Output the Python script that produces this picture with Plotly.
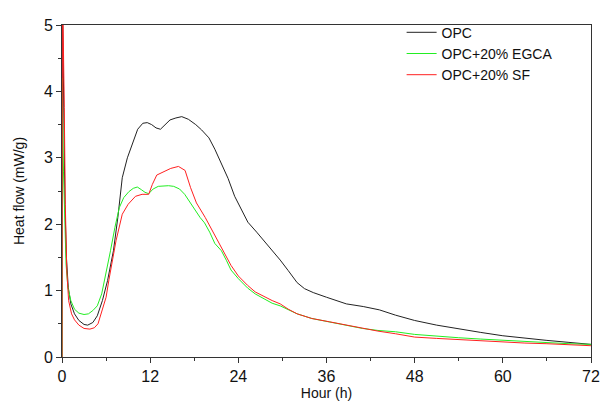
import plotly.graph_objects as go

opc_t = [0, 0.05, 0.15, 0.25, 0.4, 0.6, 0.85, 1.2, 1.7, 2.3, 3.0, 3.5, 4.2, 4.8, 5.5, 6.2, 7.0, 7.6, 8.2, 8.9, 9.6, 10.3, 11.0, 11.6, 12.2, 12.8, 13.4, 14.0, 14.7, 15.5, 16.3, 17.2, 18.2, 19.0, 20.0, 20.8, 21.8, 22.6, 23.5, 24.5, 25.3, 26.5, 27.5, 28.6, 29.7, 30.8, 32.0, 33.0, 34.2, 36.0, 38.7, 41.0, 43.2, 45.4, 48, 51, 54, 57, 60, 63, 66, 69, 72]
opc_y = [0, 5.5, 4.6, 3.7, 2.3, 1.5, 1.05, 0.8, 0.65, 0.55, 0.49, 0.48, 0.52, 0.62, 0.85, 1.15, 1.6, 2.1, 2.7, 3.0, 3.2, 3.43, 3.52, 3.53, 3.5, 3.45, 3.43, 3.5, 3.57, 3.6, 3.62, 3.58, 3.5, 3.42, 3.3, 3.13, 2.9, 2.69, 2.42, 2.2, 2.03, 1.88, 1.75, 1.6, 1.46, 1.3, 1.12, 1.03, 0.97, 0.9, 0.8, 0.76, 0.71, 0.63, 0.55, 0.48, 0.42, 0.37, 0.32, 0.28, 0.25, 0.22, 0.19]

egca_t = [0, 0.03, 0.1, 0.2, 0.35, 0.55, 0.8, 1.2, 1.7, 2.3, 3.0, 3.6, 4.2, 4.8, 5.4, 6.0, 6.6, 7.2, 7.8, 8.4, 9.1, 9.7, 10.25, 10.8, 11.3, 11.8, 12.4, 13.1, 13.8, 14.5, 15.2, 16.0, 16.7, 17.4, 18.1, 18.8, 19.4, 20.1, 20.8, 21.7, 22.4, 23.0, 24.0, 25.25, 26.3, 27.5, 28.6, 29.7, 30.8, 32.0, 34.0, 36.4, 38.7, 40.9, 43, 45.4, 48, 51, 54, 57, 60, 63, 66, 69, 72]
egca_y = [0, 4.2, 3.6, 2.8, 2.0, 1.4, 1.05, 0.85, 0.72, 0.66, 0.64, 0.65, 0.7, 0.77, 0.95, 1.25, 1.6, 1.95, 2.25, 2.4, 2.49, 2.54, 2.56, 2.52, 2.48, 2.46, 2.53, 2.57, 2.58, 2.58, 2.57, 2.53, 2.45, 2.33, 2.2, 2.1, 2.02, 1.88, 1.71, 1.6, 1.45, 1.31, 1.18, 1.04, 0.95, 0.87, 0.81, 0.77, 0.71, 0.65, 0.58, 0.53, 0.48, 0.43, 0.4, 0.38, 0.34, 0.31, 0.29, 0.27, 0.25, 0.23, 0.21, 0.2, 0.19]

sf_t = [0, 0.06, 0.15, 0.31, 0.45, 0.65, 0.9, 1.3, 1.7, 2.3, 3.0, 3.8, 4.4, 4.9, 5.5, 6.0, 6.4, 6.9, 7.35, 8.2, 9.0, 10.0, 10.9, 11.8, 12.3, 12.9, 13.8, 14.8, 15.85, 16.75, 17.5, 18.3, 19.5, 20.8, 22.0, 23.0, 24.0, 25.25, 26.3, 27.5, 28.6, 29.7, 30.8, 32.0, 34, 36.4, 38.7, 40.9, 43, 45.4, 48, 51, 54, 57, 60, 63, 66, 69, 72]
sf_y = [0, 6.0, 5.0, 3.76, 2.3, 1.3, 0.85, 0.65, 0.56, 0.48, 0.43, 0.42, 0.44, 0.5, 0.7, 0.9, 1.17, 1.45, 1.75, 2.15, 2.3, 2.42, 2.45, 2.45, 2.6, 2.74, 2.79, 2.84, 2.87, 2.81, 2.55, 2.32, 2.1, 1.83, 1.6, 1.38, 1.22, 1.08, 0.98, 0.91, 0.85, 0.8, 0.72, 0.65, 0.58, 0.53, 0.48, 0.43, 0.39, 0.35, 0.3, 0.28, 0.26, 0.24, 0.23, 0.21, 0.2, 0.18, 0.17]

x_ticks = [0, 12, 24, 36, 48, 60, 72]
y_ticks = [0, 1, 2, 3, 4, 5]

FONT = "Liberation Sans, Arial, sans-serif"

fig = go.Figure()
fig.add_trace(go.Scatter(x=opc_t, y=opc_y, mode="lines", name="OPC",
                         line=dict(color="#222222", width=1)))
fig.add_trace(go.Scatter(x=egca_t, y=egca_y, mode="lines", name="OPC+20% EGCA",
                         line=dict(color="#22ee22", width=1)))
fig.add_trace(go.Scatter(x=sf_t, y=sf_y, mode="lines", name="OPC+20% SF",
                         line=dict(color="#ff2020", width=1)))

axis_common = dict(showgrid=False, zeroline=False, showline=True, linecolor="#333333",
                   linewidth=1, mirror=True, ticks="outside", ticklen=5, automargin=False,
                   tickcolor="#333333", tickfont=dict(family=FONT, size=16, color="#111111"))

fig.update_xaxes(range=[0, 72], tickvals=x_ticks, ticktext=[str(v) for v in x_ticks],
                 minor=dict(dtick=6, tick0=0, ticks="outside", ticklen=3, tickcolor="#333333"),
                 title=dict(text="Hour (h)", font=dict(family=FONT, size=14, color="#111111"), standoff=2),
                 **axis_common)
fig.update_yaxes(range=[0, 5], tickvals=y_ticks, ticktext=[str(v) for v in y_ticks],
                 minor=dict(dtick=0.5, tick0=0, ticks="outside", ticklen=3, tickcolor="#333333"),
                 title=dict(text="Heat flow (mW/g)", font=dict(family=FONT, size=14, color="#111111"), standoff=15),
                 **axis_common)

fig.update_layout(
    width=601, height=393,
    margin=dict(l=54, r=18, t=9, b=44),
    paper_bgcolor="white", plot_bgcolor="white",
    showlegend=True,
    legend=dict(x=0.642, y=1.025, xanchor="left", yanchor="top",
                bgcolor="rgba(0,0,0,0)", borderwidth=0,
                font=dict(family=FONT, size=14, color="#111111"),
                tracegroupgap=0, itemwidth=30),
)

fig.write_html("out.html")
